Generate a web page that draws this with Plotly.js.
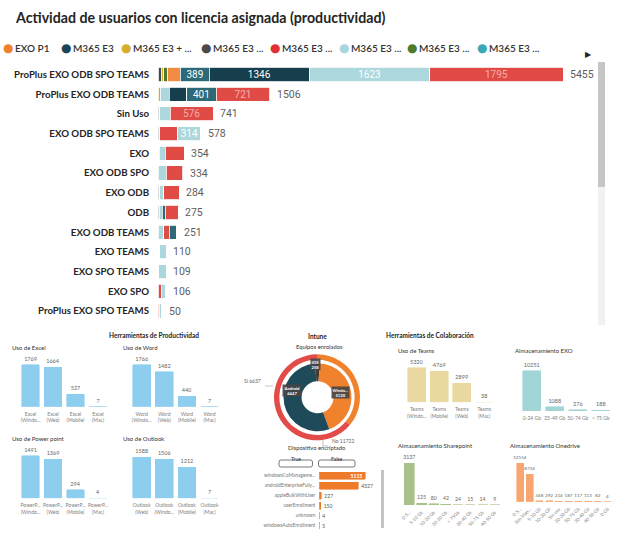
<!DOCTYPE html>
<html><head><meta charset="utf-8">
<script src="https://cdn.plot.ly/plotly-3.0.1.min.js"></script>
<style>html,body{margin:0;padding:0;background:#fff}#chart{width:625px;height:546px}</style>
</head><body><div id="chart"></div>
<script>
// ---------- DATA ----------
const categorias = ["ProPlus EXO ODB SPO TEAMS","ProPlus EXO ODB TEAMS","Sin Uso","EXO ODB SPO TEAMS","EXO","EXO ODB SPO","EXO ODB","ODB","EXO ODB TEAMS","EXO TEAMS","EXO SPO TEAMS","EXO SPO","ProPlus EXO SPO TEAMS"];
const grisE3      = [45, 0, 25, 25, 12, 0, 25, 20, 0, 10, 0, 0, 0];
const amarilloE3  = [30, 30, 0, 0, 0, 0, 0, 0, 0, 0, 0, 0, 0];
const verdeE3     = [52, 0, 0, 0, 0, 0, 0, 0, 0, 0, 0, 0, 0];
const exoP1       = [175, 0, 0, 0, 8, 0, 0, 0, 0, 0, 0, 0, 0];
const celesteA    = [0, 120, 140, 0, 80, 110, 55, 35, 75, 0, 0, 0, 0];
const marinoA     = [0, 234, 0, 0, 0, 0, 0, 0, 0, 0, 0, 0, 0];
const rojoA       = [0, 0, 0, 239, 0, 0, 0, 0, 75, 15, 12, 45, 15];
const tealE3      = [389, 401, 0, 0, 0, 0, 0, 45, 101, 0, 0, 0, 0];
const marinoB     = [1346, 0, 0, 0, 0, 0, 0, 0, 0, 0, 0, 0, 0];
const celesteB    = [1623, 0, 0, 314, 0, 0, 0, 0, 0, 85, 97, 61, 35];
const rojoB       = [1795, 721, 576, 0, 254, 224, 204, 175, 0, 0, 0, 0, 0];

const leyendaNombres = ["EXO P1","M365 E3","M365 E3 + ...","M365 E3 ...","M365 E3 ...","M365 E3 ...","M365 E3 ...","M365 E3 ..."];
const leyendaColores = ["#F07F2E","#1B4555","#D6AE2C","#4A4A4A","#E02F35","#A9D6DC","#4E7A2C","#3EA7B5"];

const excelCats = ["Excel<br>(Windo...","Excel<br>(Web)","Excel<br>(Mobile)","Excel<br>(Mac)"];
const excelVals = [1769, 1664, 527, 7];
const wordCats = ["Word<br>(Windo...","Word<br>(Web)","Word<br>(Mobile)","Word<br>(Mac)"];
const wordVals = [1766, 1482, 440, 7];
const pptCats = ["PowerP...<br>(Windo...","PowerP...<br>(Web)","PowerP...<br>(Mobile)","PowerP...<br>(Mac)"];
const pptVals = [1491, 1369, 294, 4];
const outlookCats = ["Outlook<br>(Web)","Outlook<br>(Windo...","Outlook<br>(Mobile)","Outlook<br>(Mac)"];
const outlookVals = [1588, 1506, 1212, 7];
const teamsCats = ["Teams<br>(Windo...","Teams<br>(Mobile)","Teams<br>(Web)","Teams<br>(Mac)"];
const teamsVals = [5320, 4769, 2899, 38];
const exoCats = ["0-24 Gb","25-49 Gb","50-74 Gb","> 75 Gb"];
const exoVals = [10251, 1088, 276, 188];
const spCats = ["0-5...","5-10 Gb","10-20 Gb","20-30 Gb","> 75Gb","30-40 Gb","50-75 Gb","40-50 Gb"];
const spVals = [3137, 125, 80, 42, 24, 15, 14, 9];
const odCats = ["0-5...","(Sin Man...","5-10 Gb","10-20 Gb","Sin uso","20-30 Gb","50-75 Gb","30-40 Gb","40-50 Gb","0 Gb"];
const odVals = [12154, 8734, 348, 292, 214, 187, 117, 113, 82, 4];
const encCats = ["windowsCoManageme...","androidEnterpriseFully...","appleBulkWithUser","userEnrollment","unknown","windowsAutoEnrollment"];
const encVals = [5115, 4327, 227, 150, 4, 5];
const enroladoCats = ["Sí","No"];
const enroladoVals = [6637, 11722];
const sistemaCats = ["iOS","Windo...","Android"];
const sistemaVals = [258, 5120, 6447];

// ---------- BUILD ----------
const W = 625, H = 546;
const px = v => v / W, py = v => 1 - v / H;
const F = 'Lato, "Open Sans", sans-serif';
const traces = [], annotations = [], shapes = [];
const layout = {width: W, height: H, margin: {l:0, r:0, t:0, b:0}, paper_bgcolor: '#fff', plot_bgcolor: 'rgba(0,0,0,0)',
  barmode: 'stack', showlegend: false, font: {family: F}, annotations, shapes, hovermode: false};

const series = [
  {name: "M365 E3 ...", color: "#3B4C55", vals: grisE3, tc: '#fff'},
  {name: "M365 E3 + ...", color: "#D6AE2C", vals: amarilloE3, tc: '#fff'},
  {name: "M365 E3 ...", color: "#4E7A2C", vals: verdeE3, tc: '#fff'},
  {name: "EXO P1", color: "#F28C43", vals: exoP1, tc: '#fff'},
  {name: "M365 E3 ...", color: "#ABD7DD", vals: celesteA, tc: '#fff'},
  {name: "M365 E3", color: "#163E4C", vals: marinoA, tc: '#fff'},
  {name: "M365 E3 ...", color: "#E04B45", vals: rojoA, tc: '#F4B0AA'},
  {name: "M365 E3 ...", color: "#2C6A78", vals: tealE3, tc: '#fff'},
  {name: "M365 E3", color: "#163E4C", vals: marinoB, tc: '#fff'},
  {name: "M365 E3 ...", color: "#ABD7DD", vals: celesteB, tc: '#fff'},
  {name: "M365 E3 ...", color: "#E04B45", vals: rojoB, tc: '#F4B0AA'}
];
series.forEach(s => {
  traces.push({type: 'bar', orientation: 'h', y: categorias, x: s.vals, name: s.name, xaxis: 'x', yaxis: 'y',
    marker: {color: s.color, line: {color: '#fff', width: 0.8}}, width: 0.72,
    text: s.vals.map(v => v >= 300 ? String(v) : ''), textposition: 'inside', insidetextanchor: 'middle', textangle: 0,
    textfont: {family: 'Roboto, sans-serif', size: 10, color: s.tc}, constraintext: 'none', hoverinfo: 'skip'});
});
const totales = categorias.map((c, i) => series.reduce((a, s) => a + s.vals[i], 0));
const maxTotal = Math.max(...totales);
totales.forEach((t, i) => annotations.push({xref: 'x', yref: 'y', x: t, y: categorias[i], text: String(t), showarrow: false,
  xanchor: 'left', xshift: 5, font: {family: 'Roboto, sans-serif', size: 10.5, color: '#605E5C'}}));
layout.xaxis = {domain: [px(158), px(598)], range: [0, maxTotal * 440 / 405], visible: false, fixedrange: true};
layout.yaxis = {domain: [py(320.9), py(64.6)], type: 'category', range: [categorias.length - 0.5, -0.5],
  ticks: 'outside', ticklen: 6, tickcolor: 'rgba(0,0,0,0)', showgrid: false, zeroline: false, showline: false,
  tickfont: {family: F, size: 9.7, color: '#252423', weight: 700}};

// title & legend
annotations.push({xref: 'paper', yref: 'paper', x: px(13), y: py(18), xanchor: 'left', yanchor: 'middle', showarrow: false,
  text: 'Actividad de usuarios con licencia asignada (productividad)', font: {family: F, size: 14.2, color: '#252423', weight: 700}});
const legCX = [8, 66, 126, 206, 275, 344, 412, 482];
leyendaNombres.forEach((nm, i) => {
  annotations.push({xref: 'paper', yref: 'paper', x: px(legCX[i]), y: py(48), text: '●', showarrow: false, xanchor: 'center', yanchor: 'middle',
    font: {family: 'DejaVu Sans', size: 12, color: leyendaColores[i]}});
  annotations.push({xref: 'paper', yref: 'paper', x: px(legCX[i] + 4.5), y: py(48), text: nm, showarrow: false, xanchor: 'left', yanchor: 'middle',
    font: {family: F, size: 10, color: '#333', weight: 600}});
});
annotations.push({xref: 'paper', yref: 'paper', x: px(594), y: py(48), text: '▶', showarrow: false, font: {family: 'DejaVu Sans', size: 8, color: '#252423'}});
// scrollbar main
shapes.push({type: 'rect', xref: 'paper', yref: 'paper', x0: px(598), x1: px(605), y0: py(325), y1: py(62), fillcolor: '#F1F1F1', line: {width: 0}});
shapes.push({type: 'rect', xref: 'paper', yref: 'paper', x0: px(598), x1: px(605), y0: py(187), y1: py(62), fillcolor: '#C6C6C6', line: {width: 0}});

// mini column charts
const azul = '#8DCDEE';
const minis = [
  {cats: excelCats, vals: excelVals, color: azul, x0: 19.25, x1: 109.25, base: 406.7, h: 41.7, w: 0.78, title: 'Uso de Excel', tx: 10, ty: 347.5},
  {cats: wordCats, vals: wordVals, color: azul, x0: 130.4, x1: 220.8, base: 406.7, h: 41.7, w: 0.78, title: 'Uso de Word', tx: 121, ty: 347.5},
  {cats: pptCats, vals: pptVals, color: azul, x0: 19.25, x1: 109.25, base: 498.3, h: 42.6, w: 0.78, title: 'Uso de Power point', tx: 10, ty: 438.5},
  {cats: outlookCats, vals: outlookVals, color: azul, x0: 130.4, x1: 220.8, base: 498.3, h: 41, w: 0.78, title: 'Uso de Outlook', tx: 121, ty: 438.5},
  {cats: teamsCats, vals: teamsVals, color: '#E9D9A0', x0: 405.5, x1: 495.5, base: 402.3, h: 34.6, w: 0.78, title: 'Uso de Teams', tx: 396, ty: 350},
  {cats: exoCats, vals: exoVals, color: '#A2D5D8', x0: 520.3, x1: 612.3, base: 411, h: 40.3, w: 0.79, title: 'Almacenamiento EXO', tx: 513, ty: 350},
  {cats: spCats, vals: spVals, color: '#A8C08A', x0: 403.2, x1: 500.8, base: 505, h: 41.7, w: 0.82, angle: -45, vs: 5.2, title: 'Almacenamiento Sharepoint', tx: 396, ty: 445},
  {cats: odCats, vals: odVals, color: '#F6A66E', x0: 515.15, x1: 612.45, base: 501.7, h: 38.4, w: 0.72, angle: -45, vs: 4.6, title: 'Almacenamiento Onedrive', tx: 508, ty: 445.5}
];
minis.forEach((m, k) => {
  const n = k + 2, mx = Math.max(...m.vals), kk = 1.25;
  traces.push({type: 'bar', x: m.cats, y: m.vals, xaxis: 'x' + n, yaxis: 'y' + n, width: m.w,
    marker: {color: m.color, line: {color: m.color, width: 0.6}},
    text: m.vals.map(String), textposition: 'outside', cliponaxis: false, constraintext: 'none',
    textfont: {family: F, size: m.vs || 5.5, color: '#666'}, hoverinfo: 'skip'});
  layout['xaxis' + n] = {domain: [px(m.x0), px(m.x1)], anchor: 'y' + n, type: 'category', range: [-0.5, m.cats.length - 0.5],
    tickangle: m.angle || 0, ticks: 'outside', ticklen: 2, tickcolor: 'rgba(0,0,0,0)', showgrid: false, zeroline: false, showline: false,
    tickfont: {family: F, size: m.angle ? 4.6 : 5, color: '#808080'}};
  layout['yaxis' + n] = {domain: [py(m.base), py(m.base - m.h * kk)], anchor: 'x' + n, range: [0, mx * kk], visible: false};
  annotations.push({xref: 'paper', yref: 'paper', x: px(m.tx), y: py(m.ty), xanchor: 'left', yanchor: 'middle', showarrow: false,
    text: m.title, font: {family: F, size: 6, color: '#333'}});
});

// panel titles
[['Herramientas de Productividad', 106.5, 335.5], ['Herramientas de Colaboración', 475.5, 335], ['Intune', 317, 336.5]].forEach(t =>
  annotations.push({xref: 'paper', yref: 'paper', x: px(t[1]), y: py(t[2]), showarrow: false, text: t[0],
    font: {family: F, size: 6.5, color: '#252423', weight: 700}}));
annotations.push({xref: 'paper', yref: 'paper', x: px(319), y: py(346), showarrow: false, text: 'Equipos enrolados', font: {family: F, size: 5.8, color: '#333'}});

// donuts
traces.push({type: 'pie', labels: enroladoCats, values: enroladoVals, hole: 0.875, sort: false, direction: 'counterclockwise', rotation: 0,
  marker: {colors: ['#F0822E', '#E24B47']}, textinfo: 'none', hoverinfo: 'skip',
  domain: {x: [px(274), px(360)], y: [py(440.3), py(354.3)]}});
traces.push({type: 'pie', labels: sistemaCats, values: sistemaVals, hole: 0.47, sort: false, direction: 'clockwise', rotation: -4,
  marker: {colors: ['#4A3A2A', '#F0822E', '#1F4A5A']}, textinfo: 'none', hoverinfo: 'skip',
  domain: {x: [px(283.5), px(351.5)], y: [py(431.3), py(363.3)]}});
const pieLab = [[315, 371], [340.5, 398.5], [291.5, 397]];
sistemaCats.forEach((c, i) => annotations.push({xref: 'paper', yref: 'paper', x: px(pieLab[i][0]), y: py(pieLab[i][1]), showarrow: false,
  text: c + '<br>' + sistemaVals[i], bgcolor: 'rgba(70,70,70,0.9)', borderpad: 0.5, font: {family: F, size: 4.2, color: '#fff', weight: 700}}));
annotations.push({xref: 'paper', yref: 'paper', x: px(263), y: py(386), xanchor: 'right', showarrow: false,
  text: enroladoCats[0] + ' ' + enroladoVals[0], font: {family: F, size: 5, color: '#666'}});
annotations.push({xref: 'paper', yref: 'paper', x: px(330), y: py(446), xanchor: 'left', showarrow: false,
  text: enroladoCats[1] + ' ' + enroladoVals[1], font: {family: F, size: 5, color: '#666'}});
shapes.push({type: 'line', xref: 'paper', yref: 'paper', x0: px(265), x1: px(273), y0: py(386), y1: py(386), line: {color: '#aaa', width: 0.7}});
shapes.push({type: 'path', xref: 'paper', yref: 'paper', path: `M ${px(323)} ${py(440)} L ${px(323)} ${py(446)} L ${px(328)} ${py(446)}`, line: {color: '#aaa', width: 0.7}});

// Dispositivo encriptado
annotations.push({xref: 'paper', yref: 'paper', x: px(316.5), y: py(453.3), showarrow: false, text: 'Dispositivo encriptado', font: {family: F, size: 5.8, color: '#333'}});
function rr(x0, y0, x1, y1, r) {
  return `M ${px(x0 + r)} ${py(y0)} L ${px(x1 - r)} ${py(y0)} Q ${px(x1)} ${py(y0)} ${px(x1)} ${py(y0 + r)} L ${px(x1)} ${py(y1 - r)} Q ${px(x1)} ${py(y1)} ${px(x1 - r)} ${py(y1)} L ${px(x0 + r)} ${py(y1)} Q ${px(x0)} ${py(y1)} ${px(x0)} ${py(y1 - r)} L ${px(x0)} ${py(y0 + r)} Q ${px(x0)} ${py(y0)} ${px(x0 + r)} ${py(y0)} Z`;
}
[['True', 279, 312.5], ['False', 318.5, 355]].forEach(b => {
  shapes.push({type: 'path', xref: 'paper', yref: 'paper', path: rr(b[1], 460, b[2], 467, 2), fillcolor: '#fff', line: {color: '#555', width: 0.8}});
  annotations.push({xref: 'paper', yref: 'paper', x: px((b[1] + b[2]) / 2), y: py(463.5), showarrow: false, text: b[0], font: {family: F, size: 5.2, color: '#333'}});
});
const encMax = Math.max(...encVals);
traces.push({type: 'bar', orientation: 'h', y: encCats, x: encVals, xaxis: 'x10', yaxis: 'y10', width: 0.7,
  marker: {color: '#EE7B2A', line: {color: '#EE7B2A', width: 0.6}},
  text: encVals.map(String), textposition: encVals.map(v => v === encMax ? 'inside' : 'outside'), insidetextanchor: 'end',
  cliponaxis: false, constraintext: 'none', textangle: 0,
  insidetextfont: {family: F, size: 5, color: '#fff', weight: 700}, outsidetextfont: {family: F, size: 5, color: '#555'}, hoverinfo: 'skip'});
layout.xaxis10 = {domain: [px(319.3), px(319.3 + 46 * 1.4)], anchor: 'y10', range: [0, encMax * 1.4], visible: false};
layout.yaxis10 = {domain: [py(530.7), py(470.7)], anchor: 'x10', type: 'category', range: [encCats.length - 0.5, -0.5],
  ticks: 'outside', ticklen: 2, tickcolor: 'rgba(0,0,0,0)', showgrid: false, zeroline: false, showline: false,
  tickfont: {family: F, size: 4.8, color: '#777'}};
shapes.push({type: 'rect', xref: 'paper', yref: 'paper', x0: px(381), x1: px(384), y0: py(528), y1: py(470), fillcolor: '#C4C4C4', line: {width: 0}});

Plotly.newPlot('chart', traces, layout, {staticPlot: true, displayModeBar: false});
</script>
</body></html>
